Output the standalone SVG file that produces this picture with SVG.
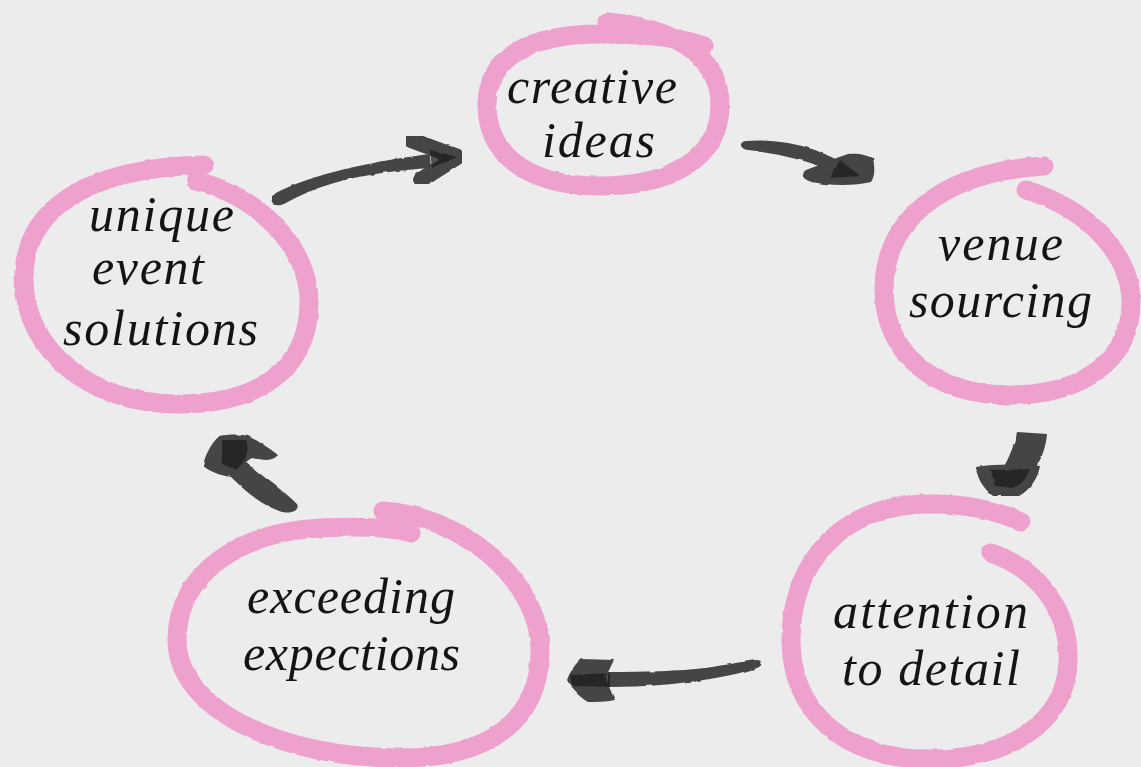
<svg xmlns="http://www.w3.org/2000/svg" width="1141" height="767" viewBox="0 0 1141 767">
<defs>
<filter id="rough" x="-10%" y="-10%" width="120%" height="120%">
<feTurbulence type="fractalNoise" baseFrequency="0.09" numOctaves="2" seed="3" result="n"/>
<feDisplacementMap in="SourceGraphic" in2="n" scale="2.5" xChannelSelector="R" yChannelSelector="G" result="d"/>
<feGaussianBlur in="d" stdDeviation="0.7"/>
</filter>
</defs>
<style>
.ring{fill:none;stroke:#eea1cd;stroke-width:19;stroke-linecap:round;stroke-linejoin:round;filter:url(#rough)}
.lbl{font-family:"Liberation Serif","Times New Roman",serif;font-style:italic;font-size:50px;fill:#141414}
.ar{fill:#444444;filter:url(#rough)}
.ard{fill:#1e1e1e;opacity:0.75;filter:url(#rough)}
.arh{fill:none;stroke:#444444;stroke-width:16;stroke-linecap:round;stroke-linejoin:round;filter:url(#rough)}
</style>
<rect width="1141" height="767" fill="#ececec"/>

<g id="node-creative-ideas">
<path class="ring" d="M 607 22 C 665 26 720 52 720 105 C 720 160 668 186 600 186 C 522 186 487 150 487 105 C 487 57 530 34 600 34 C 640 34 680 37 704 46"/>
<text class="lbl" x="507" y="103" textLength="170" lengthAdjust="spacing">creative</text>
<text class="lbl" x="542" y="157" textLength="113" lengthAdjust="spacing">ideas</text>
</g>

<g id="node-unique-event-solutions">
<path class="ring" d="M 196 181 C 262 197 309 250 309 302 C 309 370 258 404 178 404 C 90 404 26 350 24 282 C 22 212 82 168 204 165"/>
<text class="lbl" x="89" y="231" textLength="145" lengthAdjust="spacing">unique</text>
<text class="lbl" x="92" y="284" textLength="112" lengthAdjust="spacing">event</text>
<text class="lbl" x="63" y="345" textLength="195" lengthAdjust="spacing">solutions</text>
</g>

<g id="node-venue-sourcing">
<path class="ring" d="M 1026 190 C 1092 210 1131 258 1131 302 C 1131 362 1080 395 1010 395 C 930 395 884 350 884 290 C 884 220 942 172 1044 166"/>
<text class="lbl" x="938" y="260" textLength="125" lengthAdjust="spacing">venue</text>
<text class="lbl" x="909" y="317" textLength="183" lengthAdjust="spacing">sourcing</text>
</g>

<g id="node-attention-to-detail">
<path class="ring" d="M 991 553 C 1040 570 1070 612 1068 662 C 1066 722 1010 759 930 759 C 842 759 791 710 791 640 C 791 562 842 504 930 504 C 968 504 998 511 1021 522"/>
<text class="lbl" x="833" y="628" textLength="195" lengthAdjust="spacing">attention</text>
<text class="lbl" x="842" y="685" textLength="178" lengthAdjust="spacing">to detail</text>
</g>

<g id="node-exceeding-expections">
<path class="ring" d="M 383 511 C 462 516 540 580 540 650 C 540 720 490 758 400 758 C 282 758 177 710 177 640 C 177 572 242 532 320 528 C 360 526 394 528 411 533"/>
<text class="lbl" x="247" y="613" textLength="208" lengthAdjust="spacing">exceeding</text>
<text class="lbl" x="243" y="670" textLength="217" lengthAdjust="spacing">expections</text>
</g>

<g id="connectors">
<g id="arrow-1">
<path class="ar" d="M 274 194 C 292 184 320 175 345 169 C 375 162 405 157 430 154 L 431 168 C 400 170 370 174 345 180 C 320 186 298 196 284 204 C 274 208 266 202 274 194 Z"/>
<path class="arh" d="M 411 140 L 457 157 L 421 180"/>
<path class="ard" d="M 430 150 L 457 157 L 432 168 Z"/>
</g>
<g id="arrow-2">
<path class="ar" d="M 746 141 C 770 139 795 143 815 150 C 828 155 838 160 846 165 L 842 176 C 830 170 815 164 800 160 C 782 155 765 152 748 150 C 740 149 738 142 746 141 Z"/>
<path class="ar" d="M 806 170 C 820 165 835 158 848 154 C 858 153 868 155 873 159 C 875 168 875 176 871 182 C 855 186 830 186 812 182 C 803 180 800 174 806 170 Z"/>
<path class="ard" d="M 840 160 L 860 176 L 830 178 Z"/>
</g>
<g id="arrow-3">
<path class="ar" d="M 1017 432 L 1047 434 C 1046 446 1042 458 1035 469 L 1003 468 C 1009 458 1014 446 1017 432 Z"/>
<path class="ar" d="M 976 467 C 995 464 1020 464 1040 466 C 1038 478 1030 490 1019 496 L 993 496 C 983 488 977 478 976 467 Z"/>
<path class="ard" d="M 990 470 L 1030 469 C 1026 480 1020 486 1012 488 L 995 486 Z"/>
</g>
<g id="arrow-4">
<path class="ar" d="M 757 660 C 740 662 725 665 705 668 C 680 671 645 672 608 672 L 608 687 C 645 687 680 684 710 679 C 728 676 745 672 757 668 C 763 666 763 660 757 660 Z"/>
<path class="ar" d="M 567 680 C 570 672 575 664 581 659 L 614 660 C 611 666 608 672 606 677 C 608 684 611 692 615 700 C 605 702 596 702 588 702 C 578 696 571 688 567 680 Z"/>
<path class="ard" d="M 570 675 L 610 673 L 610 687 L 572 686 Z"/>
</g>
<g id="arrow-5">
<path class="ar" d="M 297 504 C 285 492 270 482 258 472 C 250 465 244 460 238 455 L 228 474 C 236 482 246 492 258 500 C 267 506 276 510 282 512 C 292 514 300 510 297 504 Z"/>
<path class="ar" d="M 203 466 C 205 455 211 444 219 436 C 230 434 240 434 248 436 C 258 441 268 447 278 455 C 272 462 262 460 252 458 C 244 462 238 470 234 477 C 225 477 212 473 203 466 Z"/>
<path class="ard" d="M 222 440 L 246 440 C 250 450 246 462 236 470 L 222 464 Z"/>
</g>
</g>
</svg>
